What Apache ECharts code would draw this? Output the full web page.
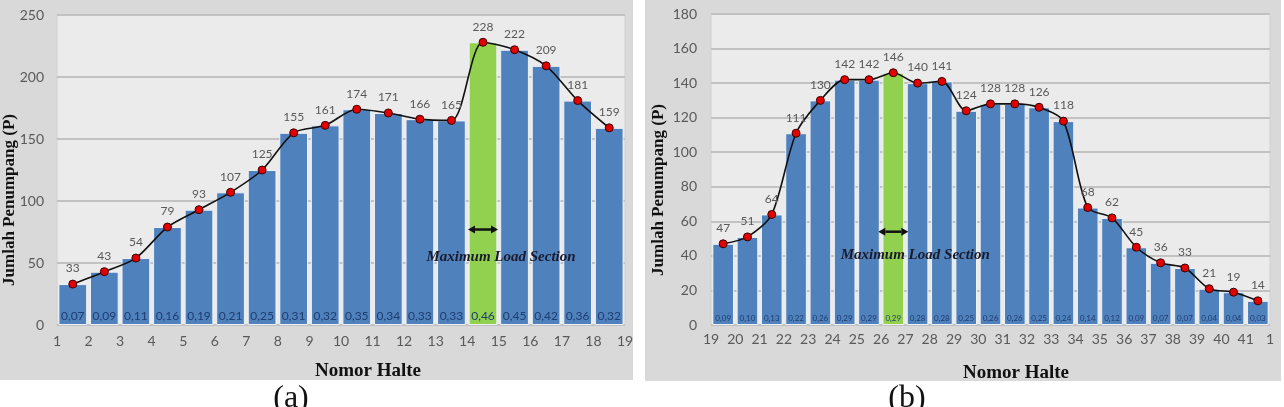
<!DOCTYPE html>
<html><head><meta charset="utf-8">
<script src="https://cdn.jsdelivr.net/npm/echarts@6/dist/echarts.min.js"></script>
<style>html,body{margin:0;padding:0;background:#fff}#c{width:1284px;height:407px}</style>
</head><body><div id="c"></div><script>
// ---- Data: panel (a) ----
const valuesA = [33,43,54,79,93,107,125,155,161,174,171,166,165,228,222,209,181,159];
const ratiosA = [0.07,0.09,0.11,0.16,0.19,0.21,0.25,0.31,0.32,0.35,0.34,0.33,0.33,0.46,0.45,0.42,0.36,0.32];
const tickLabelsA = ['1','2','3','4','5','6','7','8','9','10','11','12','13','14','15','16','17','18','19'];
const highlightA = 13;
// ---- Data: panel (b) ----
const valuesB = [47,51,64,111,130,142,142,146,140,141,124,128,128,126,118,68,62,45,36,33,21,19,14];
const ratiosB = [0.09,0.10,0.13,0.22,0.26,0.29,0.29,0.29,0.28,0.28,0.25,0.26,0.26,0.25,0.24,0.14,0.12,0.09,0.07,0.07,0.04,0.04,0.03];
const tickLabelsB = ['19','20','21','22','23','24','25','26','27','28','29','30','31','32','33','34','35','36','37','38','39','40','41','1'];
const highlightB = 7;
const yTitle = 'Jumlah Penumpang (P)';
const xTitle = 'Nomor Halte';
const mlsText = 'Maximum Load Section';

const BLUE = '#4f81bd', GREEN = '#92d050';
const TICK = '#595959';
const sans = 'Lato';
const serif = '"Liberation Serif"';
const fmt = v => v.toFixed(2).replace('.', ',');

const chart = echarts.init(document.getElementById('c'), null, {renderer: 'canvas'});

function cats(n){ const a=[]; for(let i=0;i<n;i++) a.push('s'+i); return a; }

function panel(gi, vals, ticks, yMax, yInt, labelMargin, yMargin){
  const xa = [
    {gridIndex: gi, type: 'category', data: cats(vals.length), boundaryGap: true,
     axisLabel: {show: false}, axisTick: {show: false},
     axisLine: {show: true, lineStyle: {color: '#bfbfbf', width: 1}}},
    {gridIndex: gi, type: 'value', position: 'bottom', min: 0, max: vals.length, interval: 1,
     axisLine: {show: false}, axisTick: {show: false}, splitLine: {show: false},
     axisLabel: {show: true, color: TICK, fontFamily: sans, fontSize: 14, margin: labelMargin,
       formatter: v => ticks[Math.round(v)]}}
  ];
  const ya = {gridIndex: gi, type: 'value', min: 0, max: yMax, interval: yInt,
    axisLine: {show: false}, axisTick: {show: false},
    axisLabel: {color: TICK, fontFamily: sans, fontSize: 14, margin: yMargin},
    splitLine: {show: true, lineStyle: {color: '#c2c2c2', width: 2}}};
  return {xa, ya};
}

const pA = panel(0, valuesA, tickLabelsA, 250, 50, 9, 13);
const pB = panel(1, valuesB, tickLabelsB, 180, 20, 7, 14);

function barSeries(gi, vals, ratios, hi, font, gap){
  return {
    type: 'bar', xAxisIndex: gi*2, yAxisIndex: gi, barCategoryGap: gap,
    data: vals.map((v,i) => ({value: v, itemStyle: {color: i===hi ? GREEN : BLUE}})),
    itemStyle: {borderColor: '#eef2f7', borderWidth: 1},
    label: {show: true, position: 'insideBottom', distance: 3,
      formatter: p => fmt(ratios[p.dataIndex]), color: '#1f3d70', fontFamily: sans, fontSize: font},
    z: 2
  };
}
function lineSeries(gi, vals){
  return {
    type: 'line', xAxisIndex: gi*2, yAxisIndex: gi, data: vals, smooth: 0.28,
    symbol: 'circle', symbolSize: 8,
    itemStyle: {color: '#e30000', borderColor: '#3a0000', borderWidth: 1},
    lineStyle: {color: '#111', width: 1.6},
    label: {show: true, position: 'top', distance: 5, color: TICK, fontFamily: sans, fontSize: 12},
    z: 5
  };
}

chart.setOption({
  animation: false,
  grid: [
    {left: 57, top: 15, width: 568, height: 310, show: true, backgroundColor: '#ebebeb', borderColor: '#d0d0d0', borderWidth: 1},
    {left: 711, top: 14, width: 559, height: 311, show: true, backgroundColor: '#ebebeb', borderColor: '#d0d0d0', borderWidth: 1}
  ],
  xAxis: [...pA.xa, ...pB.xa],
  yAxis: [pA.ya, pB.ya],
  series: [
    barSeries(0, valuesA, ratiosA, highlightA, 12, '9%'),
    lineSeries(0, valuesA),
    barSeries(1, valuesB, ratiosB, highlightB, 8, '11%'),
    lineSeries(1, valuesB)
  ]
});

// ---- annotations placed through the axes ----
function annot(gi, hi, arrowVal, textVal, textShift){
  const c = chart.convertToPixel({xAxisIndex: gi*2+1, yAxisIndex: gi}, [hi + 0.5, arrowVal]);
  const t = chart.convertToPixel({xAxisIndex: gi*2+1, yAxisIndex: gi}, [hi + 0.5, textVal]);
  const half = 15, head = 7, hh = 4;
  const x = c[0], y = c[1];
  return [
    {type: 'line', shape: {x1: x-half+head, y1: y, x2: x+half-head, y2: y}, style: {stroke: '#111', lineWidth: 2.5}, z: 20},
    {type: 'polygon', shape: {points: [[x-half, y], [x-half+head, y-hh], [x-half+head, y+hh]]}, style: {fill: '#111'}, z: 20},
    {type: 'polygon', shape: {points: [[x+half, y], [x+half-head, y-hh], [x+half-head, y+hh]]}, style: {fill: '#111'}, z: 20},
    {type: 'text', x: t[0] + textShift, y: t[1], style: {text: mlsText, font: 'italic bold 15px ' + serif, fill: '#1a1a2a', align: 'center', verticalAlign: 'middle'}, z: 20}
  ];
}

const g = [
  {type: 'rect', shape: {x: 0, y: 0, width: 633, height: 380}, style: {fill: '#d9d9d9'}, z: -10},
  {type: 'rect', shape: {x: 645, y: 0, width: 636, height: 381}, style: {fill: '#d9d9d9'}, z: -10},
  {type: 'text', x: 10, y: 200, rotation: Math.PI/2, style: {text: yTitle, font: 'bold 17px ' + serif, fill: '#111', align: 'center', verticalAlign: 'middle'}},
  {type: 'text', x: 659, y: 190, rotation: Math.PI/2, style: {text: yTitle, font: 'bold 17px ' + serif, fill: '#111', align: 'center', verticalAlign: 'middle'}},
  {type: 'text', x: 368, y: 371, style: {text: xTitle, font: 'bold 19px ' + serif, fill: '#111', align: 'center', verticalAlign: 'middle'}},
  {type: 'text', x: 1016, y: 373, style: {text: xTitle, font: 'bold 19px ' + serif, fill: '#111', align: 'center', verticalAlign: 'middle'}},
  {type: 'text', x: 291, y: 383, style: {text: '(a)', font: '32px ' + serif, fill: '#111', align: 'center', verticalAlign: 'top'}},
  {type: 'text', x: 907, y: 383, style: {text: '(b)', font: '32px ' + serif, fill: '#111', align: 'center', verticalAlign: 'top'}},
  ...annot(0, highlightA, 77, 55, 18),
  ...annot(1, highlightB, 54, 40.5, 22)
];
chart.setOption({graphic: {elements: g}});
</script></body></html>
